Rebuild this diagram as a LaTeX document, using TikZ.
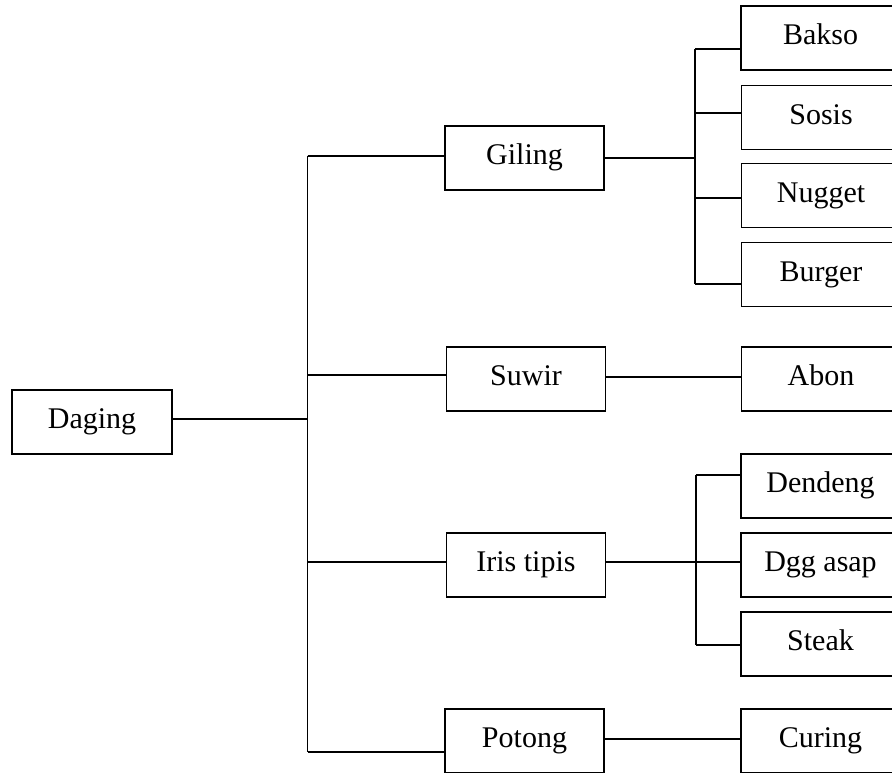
\documentclass[tikz,border=0pt]{standalone}
\usepackage{fontspec}
\setmainfont{Liberation Serif}
\begin{document}
\begin{tikzpicture}[x=1pt,y=-1pt,
  box/.style={draw,line width=1.8pt,minimum width=159pt,minimum height=64pt,inner sep=0pt,
    text height=20pt,text depth=7pt,font=\fontsize{30}{36}\selectfont},
  conn/.style={line width=1.8pt}]
\useasboundingbox (0,0) rectangle (892,772);
\clip (0,0) rectangle (892,772);
% nodes
\node[box,minimum width=160pt] (daging) at (92,422) {Daging};
\node[box] (giling) at (524.5,158) {Giling};
\node[box] (suwir) at (526,379) {Suwir};
\node[box] (iris) at (526,565) {Iris tipis};
\node[box] (potong) at (524.5,741) {Potong};
\node[box] (bakso) at (820.5,38) {Bakso};
\node[box] (sosis) at (821,117.5) {Sosis};
\node[box] (nugget) at (821,195.5) {Nugget};
\node[box] (burger) at (821,274.5) {Burger};
\node[box] (abon) at (821,379) {Abon};
\node[box] (dendeng) at (820.5,486) {Dendeng};
\node[box] (dgg) at (820.5,565) {Dgg asap};
\node[box] (steak) at (820.5,644) {Steak};
\node[box] (curing) at (820.5,741) {Curing};
% trunk coordinates
\coordinate (ttop) at (307.5,155.7);
\coordinate (tdag) at (307.5,419);
\coordinate (tsuw) at (307.5,375);
\coordinate (tiris) at (307.5,562.3);
\coordinate (tbot) at (307.5,751.7);
% bus coordinates
\coordinate (b1top) at (695,49);
\coordinate (b1gil) at (695,157.7);
\coordinate (b1sos) at (695,112.7);
\coordinate (b1nug) at (695,197.7);
\coordinate (b1bot) at (695,284);
\coordinate (b2top) at (695.8,475);
\coordinate (b2bot) at (695.8,645);
% connectors
\draw[conn] (ttop) -- (tbot);
\draw[conn] ([yshift=3pt]daging.east) -- (tdag);
\draw[conn] (ttop) -- ([yshift=2.3pt]giling.west);
\draw[conn] (tsuw) -- ([yshift=4pt]suwir.west);
\draw[conn] (tiris) -- ([yshift=2.7pt]iris.west);
\draw[conn] (tbot) -- ([yshift=-10.7pt]potong.west);
\draw[conn] ([yshift=0.3pt]giling.east) -- (b1gil);
\draw[conn] (b1top) -- (b1bot);
\draw[conn] (b1top) -- ([yshift=-11pt]bakso.west);
\draw[conn] (b1sos) -- ([yshift=4.8pt]sosis.west);
\draw[conn] (b1nug) -- ([yshift=-2.2pt]nugget.west);
\draw[conn] (b1bot) -- ([yshift=-9.5pt]burger.west);
\draw[conn] ([yshift=2.3pt]suwir.east) -- ([yshift=2.3pt]abon.west);
\draw[conn] ([yshift=2.7pt]iris.east) -- ([yshift=2.7pt]dgg.west);
\draw[conn] (b2top) -- (b2bot);
\draw[conn] (b2top) -- ([yshift=11pt]dendeng.west);
\draw[conn] (b2bot) -- ([yshift=-1pt]steak.west);
\draw[conn] ([yshift=2.3pt]potong.east) -- ([yshift=2.3pt]curing.west);
\end{tikzpicture}
\end{document}
